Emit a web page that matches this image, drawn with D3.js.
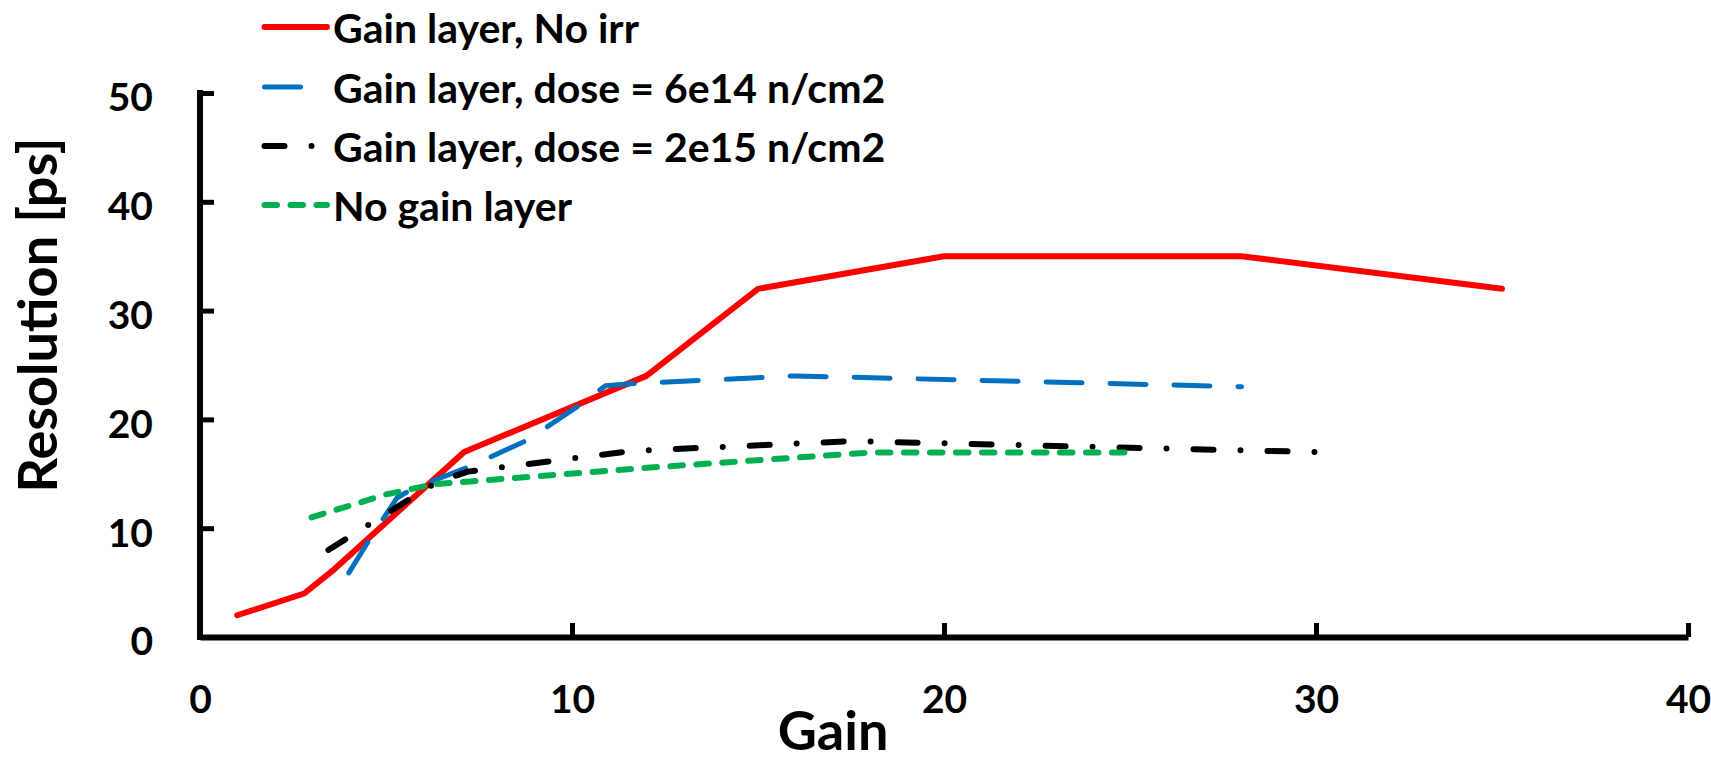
<!DOCTYPE html>
<html>
<head>
<meta charset="utf-8">
<script src="https://cdn.jsdelivr.net/npm/d3@7"></script>
<style>
    body { margin: 0; background: #fff; }
    svg { display: block; font-family: Lato, 'Open Sans', sans-serif; font-weight: bold; }
</style>
</head>
<body>
<svg></svg>
<script>
// series values
const noIrrGain = [1, 2.8, 3.6, 7.1, 12, 15, 20, 28, 35]
const noIrrRes = [2, 4, 6.2, 17, 24, 32, 35, 35, 32]

const dose6e14Gain = [4, 4.6, 5.3, 5.7, 7.2, 8.8, 10.2, 10.9, 11.7, 16, 28]
const dose6e14Res = [5.9, 9.2, 12.8, 13.6, 15.6, 18.1, 21.3, 23.1, 23.3, 24, 23]

const dose2e15Gain = [3.45, 6.4, 7.2, 11.6, 17.5, 30]
const dose2e15Res = [8, 14.3, 15.2, 17.1, 18, 17]

const noGainGain = [3, 5, 6.3, 7.3, 12, 18, 25]
const noGainRes = [11, 13.1, 14.05, 14.3, 15.55, 16.95, 16.95]

const seriesNames = [
    'Gain layer, No irr',
    'Gain layer, dose = 6e14 n/cm2',
    'Gain layer, dose = 2e15 n/cm2',
    'No gain layer'
]
const xTicks = [0, 10, 20, 30, 40]
const yTicks = [0, 10, 20, 30, 40, 50]
const xTitle = 'Gain'
const yTitle = 'Resolution [ps]'

const width = 1711
const height = 762

let svg
let xScale
let yScale

const series = [
    { name: seriesNames[0], xs: noIrrGain, ys: noIrrRes, color: '#ff0000', dash: null, w: 6 },
    { name: seriesNames[1], xs: dose6e14Gain, ys: dose6e14Res, color: '#0070c0', dash: '36 28', w: 5 },
    { name: seriesNames[2], xs: dose2e15Gain, ys: dose2e15Res, color: '#000000', dash: '20 27 0 27', w: 6 },
    { name: seriesNames[3], xs: noGainGain, ys: noGainRes, color: '#00b050', dash: '12.5 13.5', w: 6 }
]

const drawCanvas = () => {
    svg = d3.select('svg')
        .attr('width', width)
        .attr('height', height)
}

const generateScales = () => {
    xScale = d3.scaleLinear()
        .domain([0, 40])
        .range([200, 1688])
    yScale = d3.scaleLinear()
        .domain([0, 50])
        .range([637, 93])
}

const generateAxes = () => {
    const xAxis = d3.axisBottom(xScale)
        .tickValues(xTicks)
        .tickFormat(d3.format('d'))
        .tickSizeInner(-14)
        .tickSizeOuter(0)
    const yAxis = d3.axisLeft(yScale)
        .tickValues(yTicks)
        .tickFormat(d3.format('d'))
        .tickSizeInner(-14)
        .tickSizeOuter(0)

    const gx = svg.append('g')
        .attr('id', 'x-axis')
        .attr('transform', `translate(0, ${yScale(0)})`)
        .call(xAxis)
    const gy = svg.append('g')
        .attr('id', 'y-axis')
        .attr('transform', `translate(${xScale(0)}, 0)`)
        .call(yAxis)

    ;[gx, gy].forEach(g => {
        g.select('.domain').attr('stroke', '#000').attr('stroke-width', 6)
        g.selectAll('.tick line').attr('stroke', '#000').attr('stroke-width', 5)
        g.selectAll('.tick text')
            .attr('fill', '#000')
            .style('font-size', '39px')
            .style('font-family', 'Lato, sans-serif')
    })
    // x labels sit well below the axis line
    gx.selectAll('.tick text').attr('y', 48).attr('dy', '0.71em')
    // y labels right aligned, a bit below their tick
    gy.selectAll('.tick text').attr('x', -47).attr('dy', '0.46em')

    // extend the y axis a little above the top tick, like the original
    gy.select('.domain').attr('d', `M0,${yScale(50) - 3}V${yScale(0) + 3}`)

    // the original crops this title at the bottom; keep it just inside
    svg.append('text')
        .attr('x', 833)
        .attr('y', 750)
        .attr('text-anchor', 'middle')
        .style('font-size', '54px')
        .text(xTitle)
    svg.append('text')
        .attr('transform', 'translate(57, 315) rotate(-90)')
        .attr('text-anchor', 'middle')
        .style('font-size', '54px')
        .text(yTitle)
}

const drawLines = () => {
    series.forEach(s => {
        const pts = s.xs.map((x, i) => [x, s.ys[i]])
        const line = d3.line()
            .x(d => xScale(d[0]))
            .y(d => yScale(d[1]))
        svg.append('path')
            .datum(pts)
            .attr('fill', 'none')
            .attr('stroke', s.color)
            .attr('stroke-width', s.w)
            .attr('stroke-linecap', 'round')
            .attr('stroke-linejoin', 'round')
            .attr('stroke-dasharray', s.dash)
            .attr('d', line)
    })
}

const drawLegend = () => {
    const rowY = [27, 87, 146, 205]
    const legend = svg.append('g')
        .attr('id', 'legend')
        .selectAll('.legend-label')
        .data(series)
        .enter()
        .append('g')
        .attr('class', 'legend-label')
        .attr('transform', (d, i) => `translate(0, ${rowY[i]})`)
    legend.append('line')
        .attr('x1', 264.5)
        .attr('x2', 327)
        .attr('stroke', d => d.color)
        .attr('stroke-width', d => d.w)
        .attr('stroke-linecap', 'round')
        .attr('stroke-dasharray', d => d.dash)
    legend.append('text')
        .attr('x', 333)
        .attr('dy', '0.38em')
        .style('font-size', '41px')
        .text(d => d.name)
}

drawCanvas()
generateScales()
drawLines()
generateAxes()
drawLegend()
</script>
</body>
</html>
